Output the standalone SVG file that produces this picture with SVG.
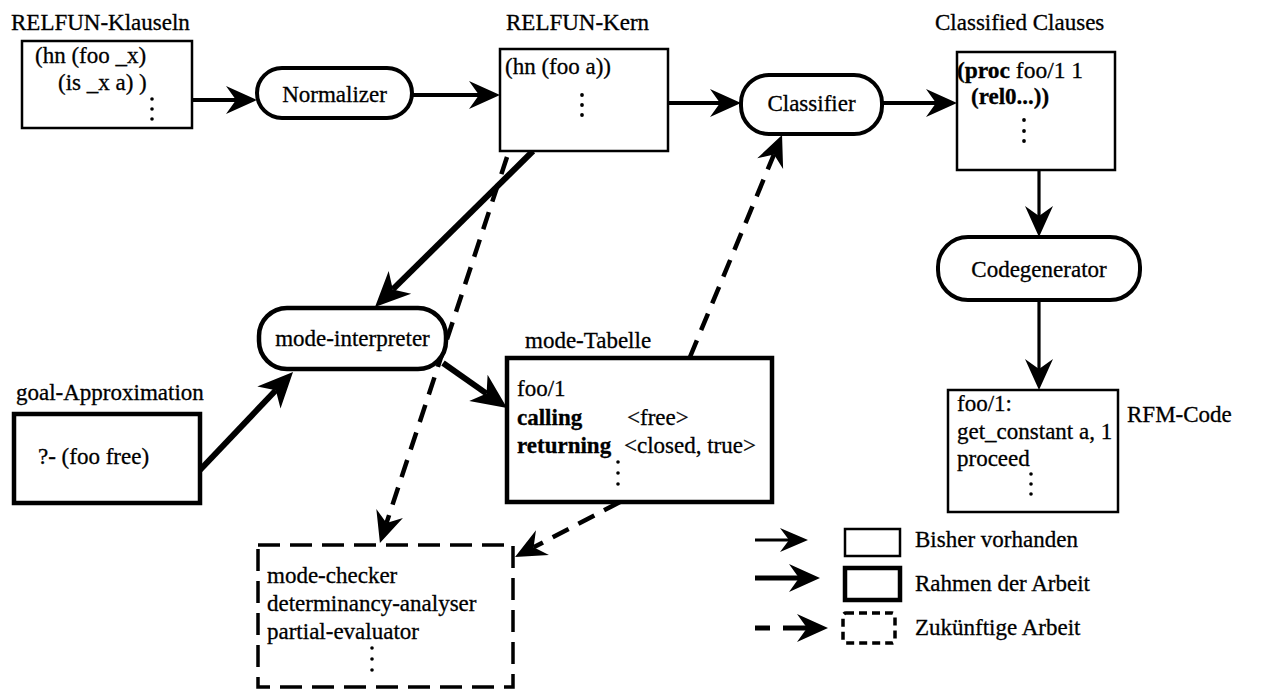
<svg xmlns="http://www.w3.org/2000/svg" width="1263" height="690" viewBox="0 0 1263 690">
<defs>
<style>
text{font-family:"Liberation Serif","Times New Roman",serif;font-size:23px;fill:#000;stroke:#000;stroke-width:0.3}
.b{font-weight:bold}
.thin{fill:#fff;stroke:#000;stroke-width:2.5}
.thick{fill:#fff;stroke:#000;stroke-width:4.5}
.pill{fill:#fff;stroke:#000;stroke-width:4}
.dbox{fill:none;stroke:#000;stroke-width:3.5;stroke-dasharray:22 10}
.c{fill:none;stroke:#000;stroke-width:4}
.cv{fill:none;stroke:#000;stroke-width:3.2}
.ct{fill:none;stroke:#000;stroke-width:6}
.cd{fill:none;stroke:#000;stroke-width:4.5;stroke-dasharray:18 11}
.dot{fill:#000}
</style>
<marker id="ah" viewBox="-11 -15 33 30" markerWidth="33" markerHeight="30" refX="0" refY="0" orient="auto" markerUnits="userSpaceOnUse"><path d="M21,0 L-10,-14 L0,0 L-10,14 Z" fill="#000"/></marker>
<marker id="ahT" viewBox="-11 -17 37 34" markerWidth="37" markerHeight="34" refX="0" refY="0" orient="auto" markerUnits="userSpaceOnUse"><path d="M25,0 L-10,-16 L0,0 L-10,16 Z" fill="#000"/></marker>
<marker id="ahS" viewBox="-10 -13 30 26" markerWidth="30" markerHeight="26" refX="0" refY="0" orient="auto" markerUnits="userSpaceOnUse"><path d="M19,0 L-9,-12 L0,0 L-9,12 Z" fill="#000"/></marker>
</defs>

<g id="connectors">
<line class="c" x1="192" y1="100" x2="236" y2="100" marker-end="url(#ah)"/>
<line class="c" x1="412" y1="95" x2="479" y2="95" marker-end="url(#ah)"/>
<line class="c" x1="668" y1="103" x2="720" y2="103" marker-end="url(#ah)"/>
<line class="c" x1="882" y1="103" x2="936" y2="103" marker-end="url(#ah)"/>
<line class="cv" x1="1039" y1="170" x2="1039" y2="216" marker-end="url(#ah)"/>
<line class="cv" x1="1039" y1="300" x2="1039" y2="369" marker-end="url(#ah)"/>
<line class="ct" x1="533" y1="151" x2="392.8" y2="289.4" marker-end="url(#ahT)"/>
<line class="ct" x1="200" y1="470" x2="275.8" y2="390.2" marker-end="url(#ahT)"/>
<line class="ct" x1="443" y1="363" x2="486.6" y2="393.6" marker-end="url(#ahT)"/>
<line class="cd" x1="507" y1="157" x2="386.5" y2="523" marker-end="url(#ah)"/>
<line class="cd" x1="690" y1="357" x2="774" y2="154.4" marker-end="url(#ah)"/>
<line class="cd" x1="620" y1="502" x2="533.6" y2="547.3" marker-end="url(#ah)"/>
</g>

<g id="relfun-klauseln">
<text x="11" y="30">RELFUN-Klauseln</text>
<rect class="thin" x="22" y="41" width="170" height="87"/>
<text x="35" y="63">(hn (foo _x)</text>
<text x="58" y="90">(is _x a) )</text>
<circle class="dot" cx="152" cy="99" r="1.8"/><circle class="dot" cx="152" cy="109" r="1.8"/><circle class="dot" cx="152" cy="119" r="1.8"/>
</g>

<g id="normalizer">
<rect class="pill" x="257" y="68" width="155" height="50" rx="25"/>
<text x="334.5" y="102" text-anchor="middle">Normalizer</text>
</g>

<g id="relfun-kern">
<text x="506" y="30">RELFUN-Kern</text>
<rect class="thin" x="500" y="49" width="168" height="102"/>
<text x="505" y="74">(hn (foo a))</text>
<circle class="dot" cx="582" cy="95" r="1.9"/><circle class="dot" cx="582" cy="105" r="1.9"/><circle class="dot" cx="582" cy="115" r="1.9"/>
</g>

<g id="classifier">
<rect class="pill" x="741" y="75" width="141" height="59" rx="28"/>
<text x="811.5" y="111" text-anchor="middle">Classifier</text>
</g>

<g id="classified-clauses">
<text x="935" y="30">Classified Clauses</text>
<rect class="thin" x="957" y="52" width="158" height="118"/>
<text x="957" y="78" textLength="126" lengthAdjust="spacingAndGlyphs"><tspan class="b">(proc</tspan> foo/1 1</text>
<text x="971" y="104" class="b">(rel0...))</text>
<circle class="dot" cx="1024" cy="120" r="1.9"/><circle class="dot" cx="1024" cy="131" r="1.9"/><circle class="dot" cx="1024" cy="141" r="1.9"/>
</g>

<g id="codegenerator">
<rect class="pill" x="938" y="237" width="202" height="63" rx="30"/>
<text x="1039" y="277" text-anchor="middle">Codegenerator</text>
</g>

<g id="rfm-code">
<rect class="thin" x="948" y="390" width="170" height="122"/>
<text x="957" y="411">foo/1:</text>
<text x="957" y="439">get_constant a, 1</text>
<text x="957" y="466">proceed</text>
<circle class="dot" cx="1031" cy="474" r="1.8"/><circle class="dot" cx="1031" cy="484" r="1.8"/><circle class="dot" cx="1031" cy="494" r="1.8"/>
<text x="1127" y="422">RFM-Code</text>
</g>

<g id="mode-interpreter">
<rect class="thick" x="259" y="308" width="187" height="61" rx="28"/>
<text x="352.5" y="346" text-anchor="middle">mode-interpreter</text>
</g>

<g id="goal-approximation">
<text x="16" y="400">goal-Approximation</text>
<rect class="thick" x="14" y="414" width="186" height="89"/>
<text x="38" y="464">?- (foo free)</text>
</g>

<g id="mode-tabelle">
<text x="525" y="348">mode-Tabelle</text>
<rect class="thick" x="507" y="358" width="265" height="144"/>
<text x="517" y="396">foo/1</text>
<text x="517" y="425" class="b">calling</text>
<text x="627" y="425">&lt;free&gt;</text>
<text x="517" y="453" class="b">returning</text>
<text x="624" y="453">&lt;closed, true&gt;</text>
<circle class="dot" cx="618" cy="462" r="1.8"/><circle class="dot" cx="618" cy="473" r="1.8"/><circle class="dot" cx="618" cy="484" r="1.8"/>
</g>

<g id="future-work">
<rect class="dbox" x="258" y="545" width="255" height="142"/>
<text x="267" y="583">mode-checker</text>
<text x="267" y="611">determinancy-analyser</text>
<text x="267" y="639">partial-evaluator</text>
<circle class="dot" cx="372" cy="648" r="1.8"/><circle class="dot" cx="372" cy="659" r="1.8"/><circle class="dot" cx="372" cy="670" r="1.8"/>
</g>

<g id="legend">
<line x1="755" y1="540" x2="789" y2="540" stroke="#000" stroke-width="3" marker-end="url(#ahS)"/>
<rect class="thin" x="845" y="529" width="55" height="27"/>
<text x="915" y="547">Bisher vorhanden</text>
<line x1="755" y1="578" x2="799" y2="578" stroke="#000" stroke-width="5" marker-end="url(#ah)"/>
<rect class="thick" x="845" y="568" width="55" height="32"/>
<text x="915" y="591">Rahmen der Arbeit</text>
<line x1="755" y1="628" x2="770" y2="628" stroke="#000" stroke-width="5"/>
<line x1="783" y1="628" x2="807" y2="628" stroke="#000" stroke-width="5" marker-end="url(#ah)"/>
<rect x="843" y="613" width="52" height="30" fill="none" stroke="#000" stroke-width="3.5" stroke-dasharray="8 5" rx="3"/>
<text x="915" y="635">Zukünftige Arbeit</text>
</g>
</svg>
